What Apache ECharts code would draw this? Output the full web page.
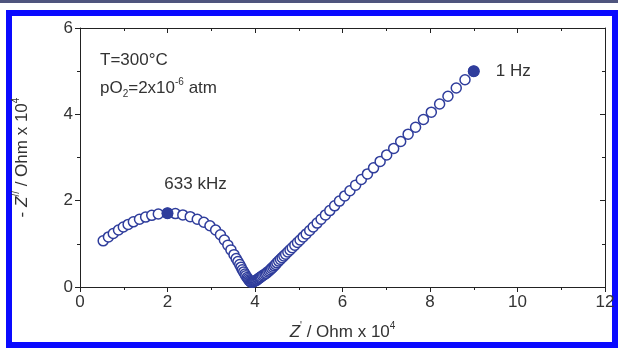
<!DOCTYPE html>
<html>
<head>
<meta charset="utf-8">
<script src="https://cdn.jsdelivr.net/npm/echarts@6/dist/echarts.min.js"></script>
<style>
  html, body { margin: 0; padding: 0; background: #fff; }
  #wrap { position: relative; width: 618px; height: 348px; overflow: hidden; }
  #topband { position: absolute; left: 0; top: 0; width: 618px; height: 3px; background: #4f557e; }
  #border { position: absolute; left: 6px; top: 10px; width: 600px; height: 326px; border: 6px solid #0a0aff; }
  #chart { position: absolute; left: 0; top: 0; width: 618px; height: 348px; }
</style>
</head>
<body>
<div id="wrap">
  <div id="topband"></div>
  <div id="border"></div>
  <div id="chart"></div>
</div>
<script>
// impedance spectrum, Z' and -Z'' (x 10^4 Ohm), high to low frequency
const zReal = [
  0.53, 0.65, 0.76, 0.88, 0.99, 1.10, 1.22, 1.36, 1.50, 1.64, 1.79, 2.00,
  2.18, 2.35, 2.52, 2.68, 2.83, 2.97, 3.10, 3.21, 3.30, 3.38, 3.45, 3.52, 3.57,
  3.61, 3.65, 3.68, 3.71, 3.74, 3.77, 3.79, 3.82, 3.84, 3.86, 3.88, 3.90, 3.92, 3.94,
  3.96, 3.98, 4.00, 4.02, 4.04, 4.06, 4.08, 4.10, 4.12, 4.14, 4.17, 4.20, 4.23, 4.26,
  4.29, 4.32, 4.35, 4.38, 4.41, 4.44, 4.47, 4.50, 4.54, 4.58, 4.62, 4.66, 4.70, 4.75,
  4.80, 4.85, 4.91, 4.97, 5.03, 5.10, 5.17, 5.25, 5.33, 5.42, 5.51, 5.61, 5.71, 5.82,
  5.93, 6.05, 6.17, 6.30, 6.43, 6.57, 6.71, 6.86, 7.01, 7.17, 7.33, 7.50, 7.67, 7.85,
  8.03, 8.22, 8.41, 8.60, 8.80, 9.00
];
const zImag = [
  1.07, 1.16, 1.24, 1.32, 1.39, 1.45, 1.51, 1.57, 1.62, 1.66, 1.69, 1.71,
  1.70, 1.67, 1.63, 1.57, 1.50, 1.42, 1.32, 1.21, 1.09, 0.97, 0.86, 0.75, 0.66,
  0.59, 0.52, 0.46, 0.40, 0.35, 0.30, 0.26, 0.22, 0.19, 0.16, 0.14, 0.12, 0.11, 0.11,
  0.12, 0.13, 0.14, 0.15, 0.16, 0.18, 0.19, 0.21, 0.22, 0.24, 0.26, 0.28, 0.30, 0.32,
  0.35, 0.37, 0.40, 0.43, 0.46, 0.49, 0.52, 0.56, 0.60, 0.64, 0.68, 0.72, 0.76, 0.81,
  0.86, 0.91, 0.97, 1.03, 1.09, 1.16, 1.23, 1.31, 1.39, 1.48, 1.57, 1.67, 1.77, 1.88,
  1.99, 2.11, 2.23, 2.36, 2.49, 2.62, 2.76, 2.91, 3.06, 3.21, 3.37, 3.54, 3.70, 3.88,
  4.05, 4.24, 4.42, 4.61, 4.80, 5.00
];
// marked frequencies
const markX = [2.00, 9.00];
const markY = [1.71, 5.00];
const markLabels = ['633 kHz', '1 Hz'];
// axes
const xTicks = [0, 2, 4, 6, 8, 10, 12];
const yTicks = [0, 2, 4, 6];

const blue = '#2f3d9c';
const ink = '#333';
const font = "'Liberation Sans', Arial, sans-serif";

var chart = echarts.init(document.getElementById('chart'));

const pts = zReal.map((x, i) => [x, zImag[i]]);
const marks = markX.map((x, i) => ({
  value: [x, markY[i]],
  label: i === 0
    ? { show: true, formatter: markLabels[i], position: 'top', distance: 5, offset: [28, -9] }
    : { show: true, formatter: markLabels[i], position: 'right', distance: 16 }
}));

const xBase = {
  type: 'value',
  min: xTicks[0],
  max: xTicks[xTicks.length - 1],
  interval: xTicks[1] - xTicks[0],
  splitLine: { show: false },
  axisLine: { show: true, onZero: false, lineStyle: { color: '#222', width: 1 } },
  minorTick: { show: true, splitNumber: 2, length: 3, lineStyle: { color: '#222' } },
  minorSplitLine: { show: false }
};
const yBase = {
  type: 'value',
  min: yTicks[0],
  max: yTicks[yTicks.length - 1],
  interval: yTicks[1] - yTicks[0],
  splitLine: { show: false },
  axisLine: { show: true, onZero: false, lineStyle: { color: '#222', width: 1 } },
  minorTick: { show: true, splitNumber: 2, length: 3, lineStyle: { color: '#222' } },
  minorSplitLine: { show: false }
};

const nameStyle = {
  fontSize: 17, color: ink, fontFamily: font, lineHeight: 22,
  rich: {
    i: { fontSize: 17, fontStyle: 'italic', color: ink, fontFamily: font },
    s: { fontSize: 10, verticalAlign: 'top', lineHeight: 12, color: ink, fontFamily: font }
  }
};

chart.setOption({
  animation: false,
  textStyle: { fontFamily: font },
  grid: { left: 80, top: 28, width: 525, height: 263 },
  xAxis: [
    Object.assign({}, xBase, {
      position: 'bottom',
      axisTick: { show: true, inside: false, length: 5, lineStyle: { color: '#222' } },
      axisLabel: { fontSize: 17, color: ink, margin: 7, fontFamily: font },
      name: '{i|Z}{s|\'} / Ohm x 10{s|4}',
      nameLocation: 'middle',
      nameGap: 34,
      nameTextStyle: nameStyle
    }),
    Object.assign({}, xBase, {
      position: 'top',
      axisTick: { show: true, inside: true, length: 5, lineStyle: { color: '#222' } },
      axisLabel: { show: false }
    })
  ],
  yAxis: [
    Object.assign({}, yBase, {
      position: 'left',
      axisTick: { show: true, inside: false, length: 5, lineStyle: { color: '#222' } },
      axisLabel: { fontSize: 17, color: ink, margin: 7, fontFamily: font },
      name: '- {i|Z}{s|//} / Ohm x 10{s|4}',
      nameLocation: 'middle',
      nameRotate: 90,
      nameGap: 47,
      nameTextStyle: nameStyle
    }),
    Object.assign({}, yBase, {
      position: 'right',
      axisTick: { show: true, inside: true, length: 5, lineStyle: { color: '#222' } },
      axisLabel: { show: false }
    })
  ],
  series: [
    {
      type: 'scatter',
      data: pts,
      symbol: 'circle',
      symbolSize: 10,
      itemStyle: { color: '#fff', borderColor: blue, borderWidth: 1.5, opacity: 1 },
      silent: true
    },
    {
      type: 'scatter',
      data: marks,
      symbol: 'circle',
      symbolSize: 12,
      itemStyle: { color: blue, opacity: 1 },
      label: { fontSize: 17, color: ink, fontFamily: font },
      silent: true,
      z: 3
    }
  ],
  graphic: [
    {
      type: 'text', left: 100, top: 52,
      style: { text: 'T=300°C', fontSize: 17, fill: ink, fontFamily: font }
    },
    {
      type: 'text', left: 100, top: 77,
      style: {
        text: '{t|pO}{b|2}{t|=2x10}{p|-6}{t| atm}',
        fill: ink, fontFamily: font,
        rich: {
          t: { fontSize: 17, lineHeight: 22, fill: ink, fontFamily: font },
          b: { fontSize: 10, lineHeight: 12, verticalAlign: 'bottom', fill: ink, fontFamily: font },
          p: { fontSize: 10, lineHeight: 12, verticalAlign: 'top', fill: ink, fontFamily: font }
        }
      }
    }
  ]
});
</script>
</body>
</html>
